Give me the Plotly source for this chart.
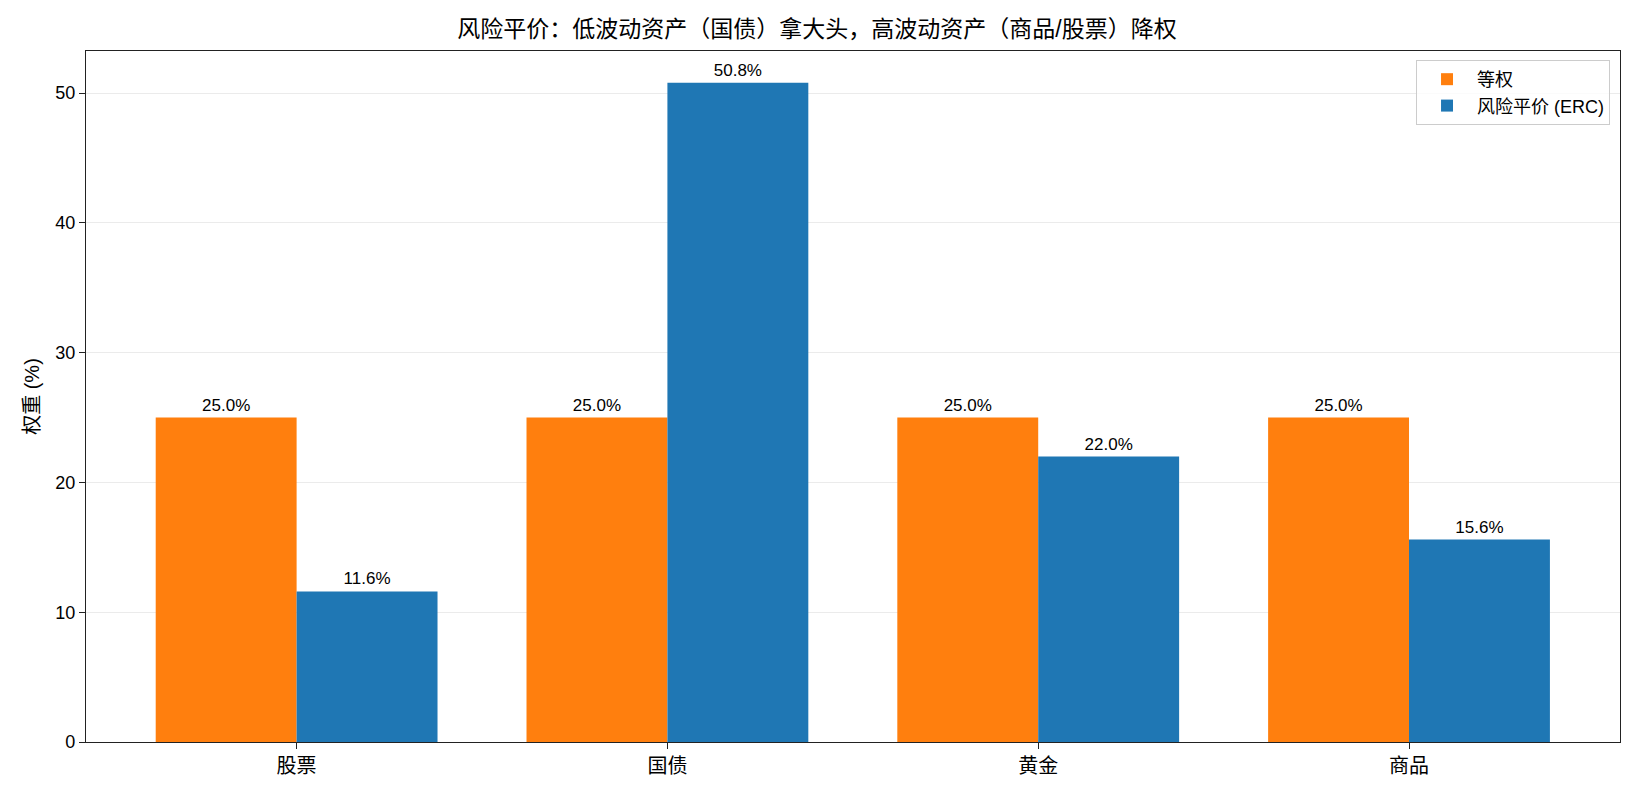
import plotly.graph_objects as go

categories = ["股票", "国债", "黄金", "商品"]
equal_weight = [25.0, 25.0, 25.0, 25.0]
risk_parity = [11.6, 50.8, 22.0, 15.6]

FONT = "Liberation Sans, Arial, Noto Sans CJK SC, sans-serif"

fig = go.Figure()
fig.add_trace(go.Bar(
    x=categories, y=equal_weight, name="等权", marker_color="#ff7f0e",
    marker_line_width=0,
    text=[f"{v:.1f}%" for v in equal_weight], textposition="outside",
    textfont=dict(size=17, color="#000000"), cliponaxis=False,
))
fig.add_trace(go.Bar(
    x=categories, y=risk_parity, name="风险平价 (ERC)", marker_color="#1f77b4",
    marker_line_width=0,
    text=[f"{v:.1f}%" for v in risk_parity], textposition="outside",
    textfont=dict(size=17, color="#000000"), cliponaxis=False,
))

fig.update_layout(
    width=1634, height=796,
    margin=dict(l=86, r=14, t=51, b=54),
    paper_bgcolor="white", plot_bgcolor="white",
    font=dict(family=FONT, size=17, color="#000000"),
    title=dict(text="风险平价：低波动资产（国债）拿大头，高波动资产（商品/股票）降权",
               x=0.5, xanchor="center", y=1 - 29 / 796, yanchor="middle",
               font=dict(size=23, family=FONT)),
    barmode="group", bargap=0.24, bargroupgap=0,
    showlegend=True,
    legend=dict(x=0.9935, xanchor="right", y=0.987, yanchor="top",
                bgcolor="rgba(255,255,255,0.8)", bordercolor="#cccccc", borderwidth=1,
                font=dict(size=18), traceorder="normal", itemwidth=50),
)
fig.update_xaxes(
    range=[-0.568, 3.569], showline=True, linecolor="#222222", linewidth=1.3, mirror=True,
    ticks="outside", ticklen=6, tickcolor="#222222", tickfont=dict(size=20),
    showgrid=False,
)
fig.update_yaxes(
    range=[0, 53.25], showline=True, linecolor="#222222", linewidth=1.3, mirror=True,
    ticks="outside", ticklen=6, tickcolor="#222222", tickfont=dict(size=18),
    tickvals=[0, 10, 20, 30, 40, 50],
    showgrid=True, gridcolor="#ebebeb", gridwidth=1, zeroline=False,
    title=dict(text="权重 (%)", font=dict(size=20), standoff=10),
)
fig.write_html("out.html")
